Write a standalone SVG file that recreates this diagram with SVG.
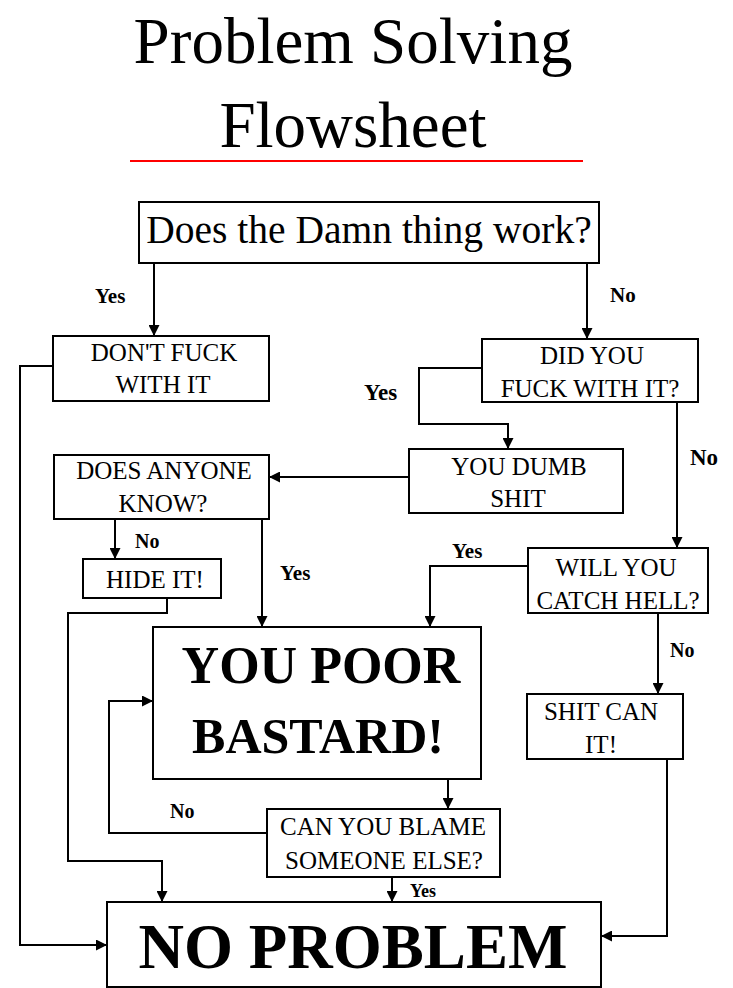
<svg xmlns="http://www.w3.org/2000/svg" width="733" height="988" viewBox="0 0 733 988">
<style>
.box{fill:#fff;stroke:#000;stroke-width:2}
text{font-family:'Liberation Serif','Times New Roman',serif;fill:#000}
.t{text-anchor:middle}
.s{font-size:25px}
.lbl{font-weight:bold}
.big{font-weight:bold}
.ln{fill:none;stroke:#000;stroke-width:2}
</style>
<defs>
<marker id="ah" viewBox="0 0 10 10" refX="10" refY="5" markerWidth="13" markerHeight="11" markerUnits="userSpaceOnUse" orient="auto">
<path d="M0,0 L10,5 L0,10 z" fill="#000"/>
</marker>
</defs>
<rect width="733" height="988" fill="#fff"/>
<g id="title">
<text class="t" x="353" y="63" font-size="65">Problem Solving</text>
<text class="t" x="353" y="147" font-size="65">Flowsheet</text>
<line x1="130" y1="161" x2="583" y2="161" stroke="#ff0000" stroke-width="2"/>
</g>
<g id="connectors">
<path class="ln" d="M154,263 V336" marker-end="url(#ah)"/>
<path class="ln" d="M587,263 V339" marker-end="url(#ah)"/>
<path class="ln" d="M53,366 H20 V945 H107" marker-end="url(#ah)"/>
<path class="ln" d="M482,368 H419 V424 H508 V449" marker-end="url(#ah)"/>
<path class="ln" d="M677,402 V548" marker-end="url(#ah)"/>
<path class="ln" d="M409,477 H269" marker-end="url(#ah)"/>
<path class="ln" d="M115,519 V559" marker-end="url(#ah)"/>
<path class="ln" d="M262,519 V627" marker-end="url(#ah)"/>
<path class="ln" d="M167,598 V613 H68 V861 H162 V902" marker-end="url(#ah)"/>
<path class="ln" d="M528,566 H430 V627" marker-end="url(#ah)"/>
<path class="ln" d="M658,613 V694" marker-end="url(#ah)"/>
<path class="ln" d="M667,759 V936 H601" marker-end="url(#ah)"/>
<path class="ln" d="M448,779 V809" marker-end="url(#ah)"/>
<path class="ln" d="M267,833 H109 V701 H153" marker-end="url(#ah)"/>
<path class="ln" d="M392,877 V902" marker-end="url(#ah)"/>
<text class="lbl" x="95" y="303" font-size="21">Yes</text>
<text class="lbl" x="610" y="302" font-size="21">No</text>
<text class="lbl" x="364" y="400" font-size="23">Yes</text>
<text class="lbl" x="690" y="465" font-size="23">No</text>
<text class="lbl" x="135" y="548" font-size="20">No</text>
<text class="lbl" x="280" y="580" font-size="21">Yes</text>
<text class="lbl" x="452" y="558" font-size="21">Yes</text>
<text class="lbl" x="670" y="657" font-size="20">No</text>
<text class="lbl" x="170" y="818" font-size="20">No</text>
<text class="lbl" x="410" y="897" font-size="18">Yes</text>
</g>
<g id="n-work">
<rect class="box" x="139" y="202" width="460" height="61"/>
<text class="t" x="369" y="243" font-size="39.5">Does the Damn thing work?</text>
</g>
<g id="n-dontfuck">
<rect class="box" x="53" y="336" width="216" height="65"/>
<text class="t s" x="164" y="361">DON'T FUCK</text>
<text class="t s" x="163" y="393">WITH  IT</text>
</g>
<g id="n-didyou">
<rect class="box" x="482" y="339" width="216" height="63"/>
<text class="t s" x="592" y="364">DID YOU</text>
<text class="t s" x="590" y="397">FUCK WITH  IT?</text>
</g>
<g id="n-dumb">
<rect class="box" x="409" y="449" width="214" height="64"/>
<text class="t s" x="519" y="475">YOU DUMB</text>
<text class="t s" x="518" y="507">SHIT</text>
</g>
<g id="n-anyone">
<rect class="box" x="54" y="455" width="215" height="64"/>
<text class="t s" x="164" y="479">DOES ANYONE</text>
<text class="t s" x="163" y="512">KNOW?</text>
</g>
<g id="n-hide">
<rect class="box" x="83" y="559" width="138" height="39"/>
<text class="t s" x="155" y="588">HIDE IT!</text>
</g>
<g id="n-catch">
<rect class="box" x="528" y="548" width="180" height="65"/>
<text class="t s" x="616" y="576">WILL YOU</text>
<text class="t s" x="618" y="609">CATCH HELL?</text>
</g>
<g id="n-poor">
<rect class="box" x="153" y="627" width="328" height="152"/>
<text class="t big" x="321" y="683" font-size="52">YOU POOR</text>
<text class="t big" x="318" y="753" font-size="50">BASTARD!</text>
</g>
<g id="n-shitcan">
<rect class="box" x="527" y="694" width="156" height="65"/>
<text class="t s" x="601" y="720">SHIT CAN</text>
<text class="t s" x="601" y="753">IT!</text>
</g>
<g id="n-blame">
<rect class="box" x="267" y="809" width="233" height="68"/>
<text class="t s" x="383" y="835">CAN YOU BLAME</text>
<text class="t s" x="384" y="869">SOMEONE ELSE?</text>
</g>
<g id="n-noproblem">
<rect class="box" x="107" y="902" width="494" height="85"/>
<text class="t big" x="353" y="968" font-size="63">NO PROBLEM</text>
</g>
</svg>
